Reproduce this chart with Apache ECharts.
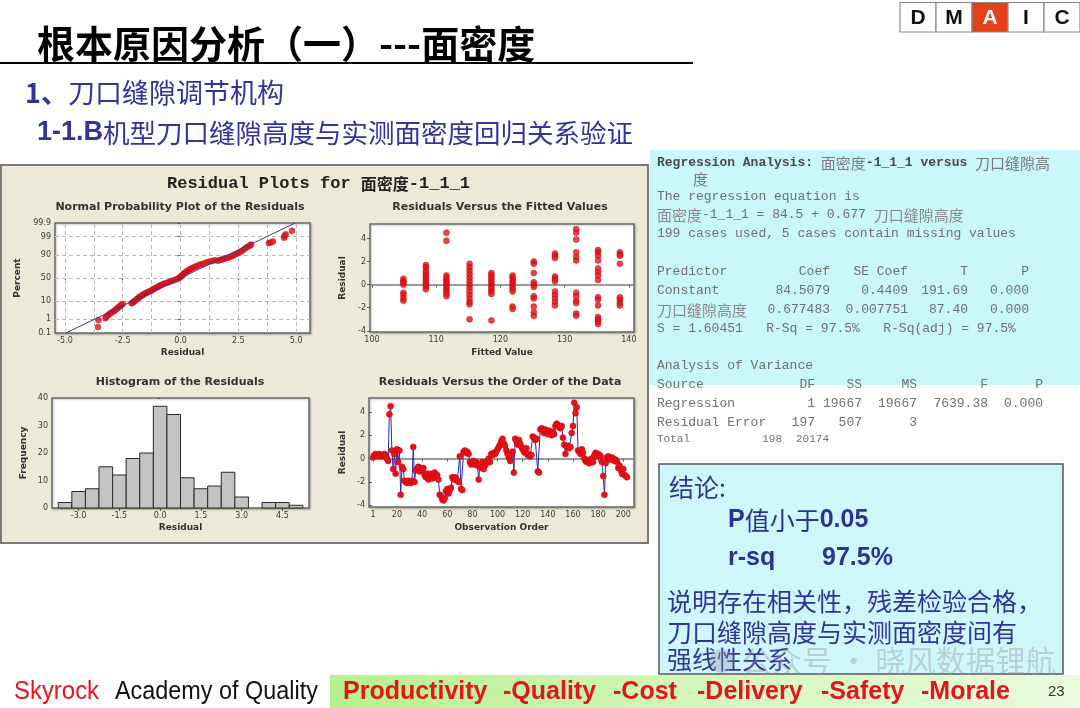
<!DOCTYPE html>
<html><head><meta charset="utf-8">
<script src="https://cdn.jsdelivr.net/npm/echarts@6.0.0/dist/echarts.min.js"></script>
<style>html,body{margin:0;padding:0;background:#fff}#c{width:1080px;height:708px}</style>
</head><body><div id="c"></div>
<script>
// ---------------- DATA ----------------
// Normal probability plot: [residual, percent]
const normPoints = [
 [-3.57,0.3],[-3.55,0.9],[-3.25,1.2],[-3.2,1.5],[-3.12,1.9],[-3.05,2.3],[-2.98,2.6],[-2.9,3.0],[-2.85,3.4],[-2.78,4.0],
 [-2.72,4.6],[-2.66,5.3],[-2.6,6.0],[-2.55,6.6],[-2.5,7.2],[-2.12,7.8],[-2.08,8.3],[-2.02,9.0],[-1.96,10.2],[-1.9,11.5],
 [-1.84,12.8],[-1.78,14.0],[-1.72,15.3],[-1.66,16.5],[-1.6,17.8],[-1.54,19.0],[-1.46,20.3],[-1.4,21.5],[-1.32,23.0],[-1.25,24.6],
 [-1.18,26.2],[-1.1,28.0],[-1.02,30.0],[-0.95,31.8],[-0.88,33.6],[-0.8,35.4],[-0.72,37.2],[-0.62,39.0],[-0.52,40.8],[-0.42,42.6],
 [-0.32,44.5],[-0.22,46.3],[-0.12,48.5],[-0.05,50.8],[0.0,53.0],[0.05,55.2],[0.1,57.5],[0.15,59.8],[0.2,62.0],[0.26,64.2],
 [0.32,66.3],[0.4,68.5],[0.48,70.5],[0.56,72.3],[0.65,74.0],[0.75,75.8],[0.86,77.5],[0.98,79.0],[1.1,80.5],[1.22,81.8],
 [1.35,83.0],[1.48,84.0],[1.62,83.5],[1.72,84.5],[1.82,85.5],[1.92,86.3],[2.02,87.0],[2.12,88.0],[2.22,89.0],[2.3,90.0],
 [2.38,91.0],[2.46,91.8],[2.55,92.6],[2.63,93.3],[2.72,94.3],[2.8,95.2],[2.9,96.0],[3.0,96.6],[3.05,97.0],
 [3.82,97.5],[3.9,97.7],[4.0,98.0],[4.48,98.8],[4.5,99.1],[4.55,99.3],[4.82,99.6]
];
const normLine = [[-4.96,0.1],[4.96,99.9]];
const normPctTicks = [0.1,1,10,50,90,99,99.9];
const normPctGrid = [1,10,50,90,99];
const normResTicks = [-5.0,-2.5,0.0,2.5,5.0];
const normResGrid = [-5,-3.75,-2.5,-1.25,0,1.25,2.5,3.75,5];

// Residuals versus fitted values
const fitValues = [104.9,108.4,111.6,115.2,118.6,121.9,125.2,128.5,131.8,135.2,138.6];
const fitResiduals = [
 [0.5,0.3,0.2,0.0,-0.7,-0.9,-1.2,-1.4],
 [1.7,1.5,1.2,1.0,0.8,0.6,0.4,0.2,0.0,-0.2,-0.4],
 [4.5,3.8,0.8,0.6,0.4,0.2,0.0,-0.2,-0.4,-0.6,-0.8,-1.0],
 [1.8,1.5,1.2,0.9,0.6,0.3,0.0,-0.3,-0.6,-0.9,-1.2,-1.5,-1.7,-3.0],
 [1.0,0.8,0.6,0.4,0.2,0.0,-0.2,-0.4,-0.6,-0.8,-3.1],
 [0.8,0.6,0.4,0.2,0.0,-0.2,-0.4,-0.6,-1.9,-2.1],
 [2.0,1.8,1.0,0.2,0.0,-0.2,-1.0,-1.2,-1.9,-2.4,-2.7],
 [2.7,2.5,2.3,0.7,0.5,0.3,-0.6,-0.9,-1.2,-1.5,-1.8],
 [4.8,4.5,3.9,2.8,2.4,2.1,-0.7,-1.0,-1.4,-1.6,-2.5,-2.7],
 [3.0,2.8,2.5,2.1,1.4,1.1,0.8,0.4,-1.1,-1.3,-1.8,-2.8,-3.0,-3.2,-3.4],
 [2.8,2.6,2.5,1.8,-1.1,-1.3,-1.6,-1.8]
];
const fitTicks = [100,110,120,130,140];
const resTicks = [-4,-2,0,2,4];

// Histogram of residuals
const histCenters = [-3.5,-3.0,-2.5,-2.0,-1.5,-1.0,-0.5,0.0,0.5,1.0,1.5,2.0,2.5,3.0,3.5,4.0,4.5,5.0];
const histCounts  = [2,6,7,15,12,18,20,37,34,11,7,8,13,4,0,2,2,1];
const histBinWidth = 0.5;
const histTicks = [-3.0,-1.5,0.0,1.5,3.0,4.5];
const freqTicks = [0,10,20,30,40];

// Residuals versus order
const orderResiduals = [
 0.1,0.3,0.4,0.3,0.2,0.4,0.3,0.2,0.3,0.4,0.3,
 0.0,-0.2,
 3.8,4.5,
 0.7,-0.9,0.4,-1.3,0.8,-0.3,0.7,-3.1,-0.7,-0.9,
 -1.9,-2.0,-2.1,-1.9,-2.0,-2.1,-1.9,
 1.0,
 -2.0,-1.0,-0.9,-0.7,-1.1,-0.8,-1.0,-0.8,
 -1.4,-1.6,-1.3,-1.8,-1.5,-1.3,-1.7,-1.5,-1.2,-1.6,-1.4,-1.8,
 -3.1,-3.2,-3.5,-3.6,-3.4,
 -2.8,-2.6,-3.0,-2.7,-2.5,
 -1.6,-1.8,-1.6,-1.7,-1.9,-2.0,
 0.2,-2.6,-2.7,
 0.6,0.7,0.5,0.6,0.4,
 -0.3,-0.5,-0.4,-0.2,-0.5,-0.3,
 -0.6,-1.8,
 -0.5,-0.8,-0.3,-0.9,-0.6,-0.4,-0.2,0.0,-0.3,
 0.4,0.3,0.5,0.4,0.6,0.8,
 1.0,1.2,1.5,1.7,1.3,1.1,0.7,
 0.4,0.1,-0.2,0.3,0.6,-1.2,
 1.7,1.5,1.2,1.6,1.3,1.0,
 0.8,0.6,0.5,0.9,0.3,0.4,0.2,0.3,
 1.9,1.8,1.6,1.7,
 -1.1,-1.2,
 2.5,2.6,2.4,2.2,2.5,2.3,2.1,2.4,2.2,2.0,2.3,
 2.1,2.8,3.0,2.9,2.7,2.6,2.8,
 1.8,1.2,0.4,
 1.0,1.1,0.9,1.0,
 2.2,2.8,
 4.8,3.9,4.4,
 0.7,0.6,0.4,0.8,0.5,
 0.0,-0.2,-0.3,-0.1,-0.4,-0.2,0.0,-0.3,
 0.3,0.5,0.2,0.4,0.3,
 0.2,-0.3,-1.5,-3.1,
 -0.4,0.1,0.2,0.0,-0.1,0.1,0.0,-0.2,-0.1,-0.3,
 -0.8,-0.6,-1.0,-1.3,-0.9,-1.4,-1.5,-1.6
];
const orderTicks = [1,20,40,60,80,100,120,140,160,180,200];

// Text content
const regHeading = ['Regression Analysis: ','面密度','-1_1_1 versus ','刀口缝隙高'];
const regCoefHeader = ['Predictor','Coef','SE Coef','T','P'];
const regCoefRows = [
 ['Constant','84.5079','0.4409','191.69','0.000'],
 ['刀口缝隙高度','0.677483','0.007751','87.40','0.000']
];
const anovaHeader = ['Source','DF','SS','MS','F','P'];
const anovaRows = [
 ['Regression','1','19667','19667','7639.38','0.000'],
 ['Residual Error','197','507','3','','']
];
const anovaTotal = ['Total','198','20174'];
const dmaic = ['D','M','A','I','C'];
const footerWords = ['Productivity','-Quality','-Cost','-Delivery','-Safety','-Morale'];

// ---------------- HELPERS ----------------
function probit(p){
  const a=[-3.969683028665376e+01,2.209460984245205e+02,-2.759285104469687e+02,1.383577518672690e+02,-3.066479806614716e+01,2.506628277459239e+00];
  const b=[-5.447609879822406e+01,1.615858368580409e+02,-1.556989798598866e+02,6.680131188771972e+01,-1.328068155288572e+01];
  const c=[-7.784894002430293e-03,-3.223964580411365e-01,-2.400758277161838e+00,-2.549732539343734e+00,4.374664141464968e+00,2.938163982698783e+00];
  const d=[7.784695709041462e-03,3.224671290700398e-01,2.445134137142996e+00,3.754408661907416e+00];
  const pl=0.02425, ph=1-pl; let q,r;
  if(p<pl){q=Math.sqrt(-2*Math.log(p));return (((((c[0]*q+c[1])*q+c[2])*q+c[3])*q+c[4])*q+c[5])/((((d[0]*q+d[1])*q+d[2])*q+d[3])*q+1);}
  if(p<=ph){q=p-0.5;r=q*q;return (((((a[0]*r+a[1])*r+a[2])*r+a[3])*r+a[4])*r+a[5])*q/(((((b[0]*r+b[1])*r+b[2])*r+b[3])*r+b[4])*r+1);}
  q=Math.sqrt(-2*Math.log(1-p));return -(((((c[0]*q+c[1])*q+c[2])*q+c[3])*q+c[4])*q+c[5])/((((d[0]*q+d[1])*q+d[2])*q+d[3])*q+1);
}
const zp = pct => probit(pct/100);

const MT = 'DejaVu Sans';
const RED = '#e3141b';
const tickLabel = {fontFamily:MT, fontSize:8, color:'#3a3a3a', margin:4};
const nameStyle = {fontFamily:MT, fontWeight:'bold', fontSize:9, color:'#333'};

function axis(gi, min, max, ticks, fmt, name, gap, isY){
  return {type:'value', gridIndex:gi, min:min, max:max,
    axisLine:{show:false}, splitLine:{show:false},
    axisTick:{show:true, length:3, lineStyle:{color:'#555'}, customValues:ticks},
    axisLabel:Object.assign({customValues:ticks, formatter:fmt}, tickLabel),
    name:name, nameLocation:'middle', nameGap:gap, nameRotate: isY?90:0, nameTextStyle:nameStyle};
}
const f1 = v => Number(v).toFixed(1);
const f0 = v => String(Math.round(v));

const gridBase = {show:true, backgroundColor:'#fff', borderColor:'#6a6a6a', borderWidth:1.5,
  shadowColor:'rgba(0,0,0,0.25)', shadowBlur:2, shadowOffsetX:1, shadowOffsetY:1, containLabel:false, outerBoundsMode:'none'};

const grids = [
  Object.assign({left:55, top:223, width:255, height:110}, gridBase),
  Object.assign({left:370, top:224, width:264, height:108}, gridBase),
  Object.assign({left:52, top:398, width:257, height:110}, gridBase),
  Object.assign({left:369, top:398, width:265, height:109}, gridBase)
];

const normYfmt = v => { for (const p of normPctTicks) if (Math.abs(zp(p)-v) < 1e-7) return String(p); return ''; };

const xAxes = [
  axis(0, -5.43, 5.6, normResTicks, f1, 'Residual', 15, false),
  axis(1, 99.7, 140.8, fitTicks, f0, 'Fitted Value', 16, false),
  axis(2, -3.98, 5.48, histTicks, f1, 'Residual', 15, false),
  axis(3, -2.2, 208.5, orderTicks, f0, 'Observation Order', 16, false)
];
const yAxes = [
  axis(0, zp(normPctTicks[0]), zp(normPctTicks[normPctTicks.length-1]), normPctTicks.map(zp), normYfmt, 'Percent', 33, true),
  axis(1, -4.1, 5.25, resTicks, f0, 'Residual', 23, true),
  axis(2, 0, 40, freqTicks, f0, 'Frequency', 24, true),
  axis(3, -4.15, 5.2, resTicks, f0, 'Residual', 22, true)
];

const dashed = {color:'#b8b8b8', type:[4,3], width:1};
const zeroLine = {silent:true, symbol:'none', z:1, label:{show:false}, lineStyle:{color:'#7a7a7a', type:'solid', width:1.5}, data:[{yAxis:0}]};

const fitPts = [];
fitValues.forEach((fv,i)=>fitResiduals[i].forEach(r=>fitPts.push([fv,r])));

const series = [
  {type:'scatter', xAxisIndex:0, yAxisIndex:0, z:3, symbol:'circle', symbolSize:6,
   itemStyle:{color:RED, borderColor:'#b00', borderWidth:0.5},
   data: normPoints.map(p=>[p[0], zp(p[1])]),
   markLine:{silent:true, symbol:'none', z:1, label:{show:false}, lineStyle:dashed,
     data: normResGrid.map(v=>({xAxis:v})).concat(normPctGrid.map(p=>({yAxis:zp(p)})))}},
  {type:'line', xAxisIndex:0, yAxisIndex:0, z:4, symbol:'none', lineStyle:{color:'#3434b0', width:1},
   data: normLine.map(p=>[p[0], zp(p[1])])},
  {type:'scatter', xAxisIndex:1, yAxisIndex:1, z:3, symbol:'circle', symbolSize:6,
   itemStyle:{color:RED, borderColor:'#b00', borderWidth:0.5}, data: fitPts, markLine: zeroLine},
  {type:'custom', xAxisIndex:2, yAxisIndex:2, z:3,
   data: histCenters.map((c,i)=>[c, histCounts[i]]),
   renderItem:(params, api)=>{
     const c = api.value(0), n = api.value(1);
     if (!n) return null;
     const p0 = api.coord([c-histBinWidth/2, n]);
     const p1 = api.coord([c+histBinWidth/2, 0]);
     return {type:'rect', shape:{x:p0[0], y:p0[1], width:p1[0]-p0[0], height:p1[1]-p0[1]},
       style:{fill:'#c3c3c3', stroke:'#2a2a2a', lineWidth:1}};
   }},
  {type:'line', xAxisIndex:3, yAxisIndex:3, z:3, symbol:'circle', symbolSize:6, showSymbol:true,
   lineStyle:{color:'#2a2ab8', width:1}, itemStyle:{color:RED, borderColor:'#c00', borderWidth:0.5},
   data: orderResiduals.map((r,i)=>[i+1, r]), markLine: zeroLine}
];

// ---------------- GRAPHIC ----------------
const CJK = '"Noto Sans CJK SC"';
function T(text, x, y, o){
  o = o || {};
  const st = {text:text, x:0, y:0, fill:o.fill||'#000', align:o.align||'left', verticalAlign:o.va||'middle',
    fontSize:o.size||12, fontFamily:o.family||CJK, fontWeight:o.weight||'normal', legacy:false};
  if (o.rich) st.rich = o.rich;
  return {type:'text', x:x, y:y, rotation:o.rot||0, scaleX:o.sx||1, z:o.z||20, silent:true, style:st};
}
const g = [];
// title
g.push(T('根本原因分析（一）---面密度', 37, 44, {size:38, weight:'bold'}));
g.push({type:'line', shape:{x1:0,y1:63,x2:693,y2:63}, style:{stroke:'#000', lineWidth:2}, z:20, silent:true});
// DMAIC
const dmX = [900,936,972,1008,1044,1080];
dmaic.forEach((ch,i)=>{
  g.push({type:'rect', shape:{x:dmX[i], y:2.5, width:dmX[i+1]-dmX[i], height:29.5},
    style:{fill: ch==='A'?'#e6401a':'#fff', stroke:'#8a8a8a', lineWidth:1.2}, z:19, silent:true});
  g.push(T(ch, (dmX[i]+dmX[i+1])/2, 18, {size:21, weight:'bold', family:'Liberation Sans', align:'center', fill: ch==='A'?'#fff':'#111'}));
});
// subtitles
g.push(T('{b|1、}{r|刀口缝隙调节机构}', 25, 93, {fill:'#333399', rich:{b:{fontSize:27, fontWeight:'bold', fontFamily:CJK, fill:'#333399'}, r:{fontSize:27, fontFamily:CJK, fill:'#333399'}}}));
g.push(T('{b|1-1.B}{r|机型刀口缝隙高度与实测面密度回归关系验证}', 37, 133, {fill:'#333399', rich:{b:{fontSize:27, fontWeight:'bold', fontFamily:'Liberation Sans', fill:'#333399'}, r:{fontSize:26.5, fontFamily:CJK, fill:'#333399'}}}));
// Minitab panel
g.push({type:'rect', shape:{x:1, y:165, width:647, height:378}, style:{fill:'#ece9d8', stroke:'#7a7a7a', lineWidth:2}, z:-5, silent:true});
g.push(T('{a|Residual Plots for }{c|面密度}{a|-1_1_1}', 167, 184, {rich:{a:{fontFamily:'Liberation Mono', fontWeight:'bold', fontSize:17, fill:'#222'}, c:{fontFamily:CJK, fontWeight:'bold', fontSize:16, fill:'#222'}}}));
const subT = {size:11, weight:'bold', family:MT, align:'center', fill:'#333'};
g.push(T('Normal Probability Plot of the Residuals', 180, 207, subT));
g.push(T('Residuals Versus the Fitted Values', 500, 207, subT));
g.push(T('Histogram of the Residuals', 180, 382, subT));
g.push(T('Residuals Versus the Order of the Data', 500, 382, subT));
// regression text box
g.push({type:'rect', shape:{x:650, y:150, width:430, height:235}, style:{fill:'#c9f6f8'}, z:-5, silent:true});
const monoRich = {
  a:{fontFamily:'Liberation Mono', fontSize:13, fill:'#707070'},
  h:{fontFamily:'Liberation Mono', fontSize:13, fontWeight:'bold', fill:'#4a4a4a'},
  c:{fontFamily:CJK, fontSize:15, fill:'#8a8a8a'},
  hc:{fontFamily:CJK, fontSize:15, fill:'#7a7a7a'}
};
const M = (txt, x, y, o)=>T(txt, x, y, Object.assign({rich:monoRich}, o||{}));
g.push(M('{h|'+regHeading[0]+'}{hc|'+regHeading[1]+'}{h|'+regHeading[2]+'}{hc|'+regHeading[3]+'}', 657, 163));
g.push(M('{hc|度}', 693, 179));
g.push(M('{a|The regression equation is}', 657, 197));
g.push(M('{c|面密度}{a|-1_1_1 = 84.5 + 0.677 }{c|刀口缝隙高度}', 657, 215));
g.push(M('{a|199 cases used, 5 cases contain missing values}', 657, 234));
const coefRight = [null, 830, 908, 968, 1029];
[regCoefHeader].concat(regCoefRows).forEach((row,ri)=>{
  const y = 272 + ri*19;
  row.forEach((cell,ci)=>{
    const isC = /[\u4e00-\u9fff]/.test(cell);
    const txt = isC ? '{c|'+cell+'}' : '{a|'+cell+'}';
    if (ci===0) g.push(M(txt, 657, y)); else g.push(M(txt, coefRight[ci], y, {align:'right'}));
  });
});
g.push(M('{a|S = 1.60451   R-Sq = 97.5%   R-Sq(adj) = 97.5%}', 657, 329));
g.push(M('{a|Analysis of Variance}', 657, 366));
const anovaRight = [null, 815, 862, 917, 988, 1043];
[anovaHeader].concat(anovaRows).forEach((row,ri)=>{
  const y = 385 + ri*19;
  row.forEach((cell,ci)=>{
    if (!cell) return;
    if (ci===0) g.push(M('{a|'+cell+'}', 657, y)); else g.push(M('{a|'+cell+'}', anovaRight[ci], y, {align:'right'}));
  });
});
g.push(T(anovaTotal[0], 657, 439, {family:'Liberation Mono', size:11, fill:'#707070'}));
g.push(T(anovaTotal[1], 782, 439, {family:'Liberation Mono', size:11, fill:'#707070', align:'right'}));
g.push(T(anovaTotal[2], 829, 439, {family:'Liberation Mono', size:11, fill:'#707070', align:'right'}));
// conclusion box
g.push({type:'rect', shape:{x:659, y:464, width:404, height:210}, style:{fill:'#cdf7fb', stroke:'#555', lineWidth:1.5}, z:-4, silent:true});
const BL = '#333399';
g.push(T('结论:', 669, 487, {size:25, fill:BL}));
g.push(T('{b|P}{r|值小于}{b|0.05}', 728, 520, {rich:{b:{fontFamily:'Liberation Sans', fontWeight:'bold', fontSize:25, fill:'#2e3190'}, r:{fontFamily:CJK, fontSize:25, fill:'#2e3190'}}}));
g.push(T('r-sq', 728, 558, {family:'Liberation Sans', weight:'bold', size:25, fill:'#2e3190'}));
g.push(T('97.5%', 822, 558, {family:'Liberation Sans', weight:'bold', size:25, fill:'#2e3190'}));
g.push(T('说明存在相关性，残差检验合格，', 667, 601, {size:25, fill:BL}));
g.push(T('刀口缝隙高度与实测面密度间有', 667, 632, {size:25, fill:BL}));
g.push(T('强线性关系', 667, 659, {size:25, fill:BL}));
// watermark
g.push({type:'circle', shape:{cx:722, cy:661, r:12}, style:{fill:'rgba(150,150,150,0.35)'}, z:22, silent:true});
g.push(T('公众号 · 晓风数据锂航', 742, 661, {size:30, fill:'rgba(150,150,150,0.4)', z:22}));
// footer
g.push({type:'rect', shape:{x:330, y:675, width:750, height:33},
  style:{fill:new echarts.graphic.LinearGradient(0,0,1,0,[{offset:0,color:'#b6f08d'},{offset:0.5,color:'#d4f7bd'},{offset:1,color:'#e8fbdc'}])}, z:21, silent:true});
g.push(T('Skyrock', 14, 692, {family:'Liberation Sans', size:26, fill:'#e3161b', sx:0.92, z:23}));
g.push(T('Academy of Quality', 115, 692, {family:'Liberation Sans', size:26, fill:'#111', sx:0.9, z:23}));
const fwX = [343,503,613,697,821,921];
footerWords.forEach((w,i)=>g.push(T(w, fwX[i], 692, {family:'Liberation Sans', weight:'bold', size:25, fill:'#e3161b', z:23})));
g.push(T('23', 1048, 692, {family:'Liberation Sans', size:15, fill:'#333', z:23}));

const chart = echarts.init(document.getElementById('c'), null, {renderer:'canvas'});
chart.setOption({
  animation:false, backgroundColor:'#fff',
  grid: grids, xAxis: xAxes, yAxis: yAxes, series: series, graphic: {elements: g}
});
</script></body></html>
